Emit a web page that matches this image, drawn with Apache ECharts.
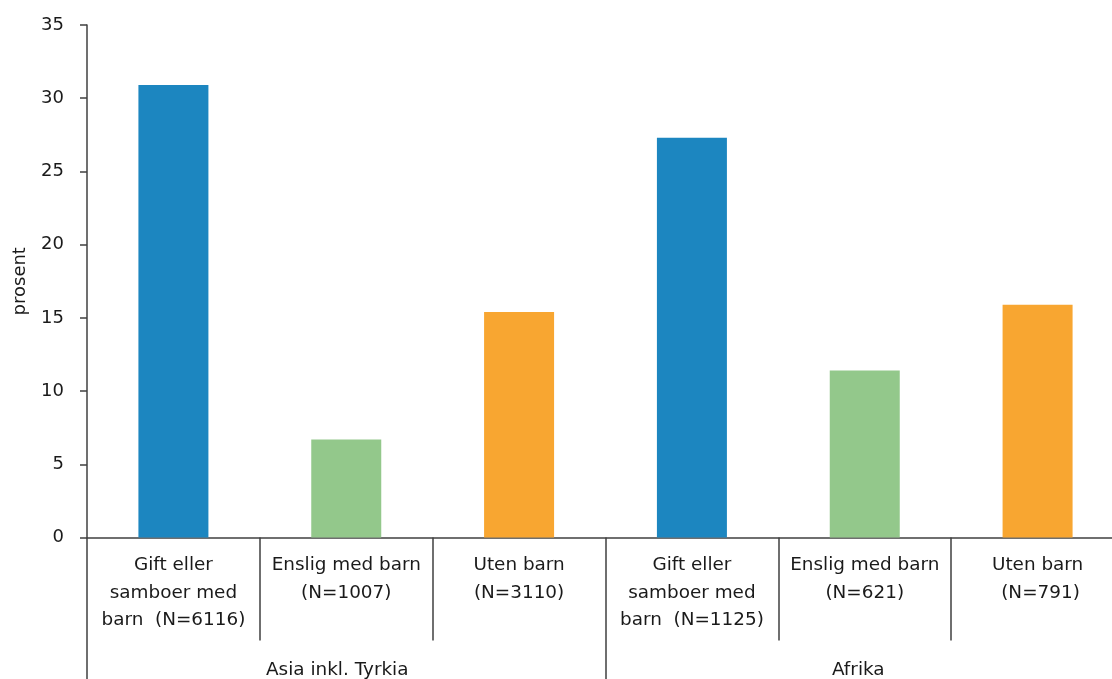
<!DOCTYPE html>
<html>
<head>
<meta charset="utf-8">
<script src="https://cdn.jsdelivr.net/npm/echarts@6/dist/echarts.min.js"></script>
<style>
  html, body { margin: 0; padding: 0; background: #ffffff; }
  #chart { width: 1112px; height: 679px; }
</style>
</head>
<body>
<div id="chart"></div>
<script>
// Household types (inner axis level) and their region groups (outer level)
const categories = [
  'Gift eller\nsamboer med\nbarn  (N=6116)',
  'Enslig med barn\n(N=1007)',
  'Uten barn\n(N=3110)',
  'Gift eller\nsamboer med\nbarn  (N=1125)',
  'Enslig med barn\n(N=621)',
  'Uten barn\n (N=791)'
];
const groups = ['Asia inkl. Tyrkia', 'Afrika'];
const values = [30.9, 6.7, 15.4, 27.3, 11.4, 15.9];
const yTicks = [0, 5, 10, 15, 20, 25, 30, 35];

const palette = ['#1c86c0', '#93c88b', '#f8a631'];
const axisColor = '#404040';
const textColor = '#1a1a1a';
const font = 'DejaVu Sans, Verdana, sans-serif';
// group labels sit slightly left of their span centre
const groupLabelPad = [[0, 18, 0, 0], [0, 13, 0, 0]];

const chart = echarts.init(document.getElementById('chart'), null, { renderer: 'canvas' });

chart.setOption({
  animation: false,
  grid: {
    left: 87, top: 25, width: 1037, height: 512.5,
    containLabel: false, outerBoundsMode: 'none'
  },
  xAxis: [
    {
      type: 'category',
      data: categories,
      position: 'bottom',
      axisLine: { show: true, lineStyle: { color: axisColor, width: 1.5 } },
      axisTick: { show: true, interval: 0, length: 103, lineStyle: { color: axisColor, width: 1.5 } },
      axisLabel: {
        interval: 0, margin: 14, color: textColor, fontFamily: font,
        fontSize: 18.4, lineHeight: 27.5, align: 'center'
      },
      splitLine: { show: false }
    },
    {
      type: 'category',
      data: groups.map((g, i) => ({ value: g, textStyle: { padding: groupLabelPad[i] } })),
      position: 'bottom',
      axisLine: { show: false },
      axisTick: { show: true, interval: 0, length: 142, lineStyle: { color: axisColor, width: 1.5 } },
      axisLabel: {
        interval: 0, margin: 124, color: textColor, fontFamily: font, fontSize: 18.4
      },
      splitLine: { show: false }
    }
  ],
  yAxis: {
    type: 'value',
    min: yTicks[0],
    max: yTicks[yTicks.length - 1],
    interval: yTicks[1] - yTicks[0],
    name: 'prosent',
    nameLocation: 'middle',
    nameGap: 58,
    nameRotate: 90,
    nameTextStyle: { color: textColor, fontFamily: font, fontSize: 18 },
    axisLine: { show: true, lineStyle: { color: axisColor, width: 1.5 } },
    axisTick: { show: true, length: 7, lineStyle: { color: axisColor, width: 1.5 } },
    axisLabel: { margin: 23, color: textColor, fontFamily: font, fontSize: 18 },
    splitLine: { show: false }
  },
  series: [
    {
      type: 'bar',
      xAxisIndex: 0,
      barWidth: 70,
      data: values.map((v, i) => ({ value: v, itemStyle: { color: palette[i % 3] } }))
    }
  ]
});
</script>
</body>
</html>
